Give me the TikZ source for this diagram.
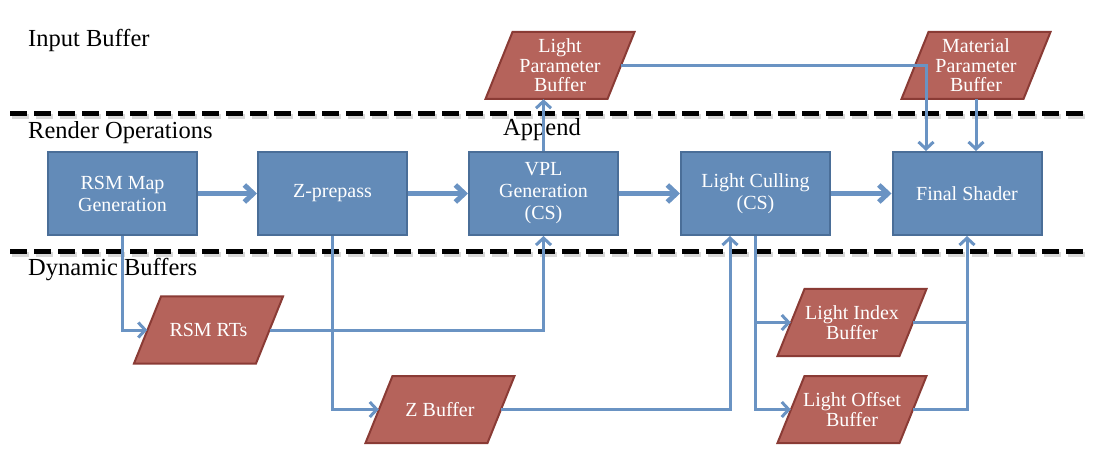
\documentclass[tikz,border=0pt]{standalone}
\usepackage{fontspec}
\setmainfont{Liberation Serif}
\usetikzlibrary{arrows.meta}
\definecolor{boxfill}{RGB}{99,139,184}
\definecolor{boxline}{RGB}{74,110,152}
\definecolor{buffill}{RGB}{181,99,91}
\definecolor{bufline}{RGB}{138,59,53}
\definecolor{conn}{RGB}{106,147,195}
\tikzset{
  opbox/.style={draw=boxline, fill=boxfill, line width=2pt, minimum width=149, minimum height=83,
    inner sep=0pt, align=center, text=white, font=\fontsize{20}{22}\selectfont},
  bufshape/.style={draw=bufline, fill=buffill, line width=2pt, line join=miter},
  buftext/.style={minimum width=122, minimum height=67, inner sep=0pt, align=center, text=white,
    font=\fontsize{20}{19.5}\selectfont},
  lanelabel/.style={anchor=west, inner sep=0pt, font=\fontsize{24.5}{26}\selectfont},
  sepline/.style={line width=5pt, dash pattern=on 17pt off 7pt},
  sepshadow/.style={line width=5pt, dash pattern=on 17pt off 7pt, black!30, opacity=0.5},
  thinconn/.style={draw=conn, line width=3pt, -{Straight Barb[length=7pt,width=15pt]}},
  thinline/.style={draw=conn, line width=3pt},
  mainconn/.style={draw=conn, line width=5pt, -{Straight Barb[length=9pt,width=17pt]}},
}
\newcommand\bufnode[4]{%
  \draw[bufshape] ({#2-61+13.5},{#3-33.5}) -- ({#2+61+13.5},{#3-33.5}) -- ({#2+61-13.5},{#3+33.5}) -- ({#2-61-13.5},{#3+33.5}) -- cycle;
  \node[buftext] (#1) at (#2,#3) {#4};
}
\begin{document}
\begin{tikzpicture}[x=1pt,y=-1pt]
\useasboundingbox (0,0) rectangle (1100,462);
% separators
\coordinate (s1a) at (10,113.5);
\coordinate (s1b) at (1083,113.5);
\coordinate (s2a) at (10,252);
\coordinate (s2b) at (1083,252);
\draw[sepshadow] ([shift={(1.5pt,-3pt)}]s1a) -- ([shift={(1.5pt,-3pt)}]s1b);
\draw[sepshadow] ([shift={(1.5pt,-3pt)}]s2a) -- ([shift={(1.5pt,-3pt)}]s2b);
\draw[sepline] (s1a) -- (s1b);
\draw[sepline] (s2a) -- (s2b);
% lane labels
\node[lanelabel] (lin) at (28,40) {Input Buffer};
\node[lanelabel] (lrend) at (28,133) {Render Operations};
\node[lanelabel] (ldyn) at (28,270) {Dynamic Buffers};
\node[lanelabel] (lapp) at (503,130) {Append};
% render operations
\node[opbox] (rsm) at (122.5,193.5) {RSM Map\\Generation};
\node[opbox] (zpre) at (332.5,193.5) {Z-prepass};
\node[opbox] (vpl) at (543.5,193.5) {VPL\\Generation\\(CS)};
\node[opbox] (lc) at (755.5,193.5) {Light Culling\\(CS)};
\node[opbox] (fs) at (967,193.5) {Final Shader};
% buffers
\bufnode{lpb}{560}{65.5}{Light\\Parameter\\Buffer}
\bufnode{mpb}{976}{65.5}{Material\\Parameter\\Buffer}
\bufnode{rsmrt}{208.5}{330}{RSM RTs}
\bufnode{zb}{440}{409.5}{Z Buffer}
\bufnode{lib}{852}{322.5}{Light Index\\Buffer}
\bufnode{lob}{852}{409.5}{Light Offset\\Buffer}
% main flow
\draw[mainconn] (rsm.east) -- (zpre.west);
\draw[mainconn] (zpre.east) -- (vpl.west);
\draw[mainconn] (vpl.east) -- (lc.west);
\draw[mainconn] (lc.east) -- (fs.west);
% input buffer connectors
\draw[thinconn] (vpl.north) -- (vpl.north |- lpb.south);
\draw[thinconn] (lpb.east) -| ([xshift=-41pt]fs.north);
\draw[thinconn] (mpb.south) -- (fs.north -| mpb.south);
% dynamic buffer connectors
\draw[thinconn] (rsm.south) |- (rsmrt.west);
\draw[thinconn] (rsmrt.east) -| (vpl.south);
\draw[thinconn] (zpre.south) |- (zb.west);
\draw[thinconn] (zb.east) -| ([xshift=-25.5pt]lc.south);
\draw[thinconn] (lc.south) |- (lob.west);
\draw[thinconn] (lc.south |- lib.west) -- (lib.west);
\draw[thinline] (lob.east) -| (fs.south |- lib.east);
\draw[thinconn] (lib.east) -| (fs.south);
\end{tikzpicture}
\end{document}
